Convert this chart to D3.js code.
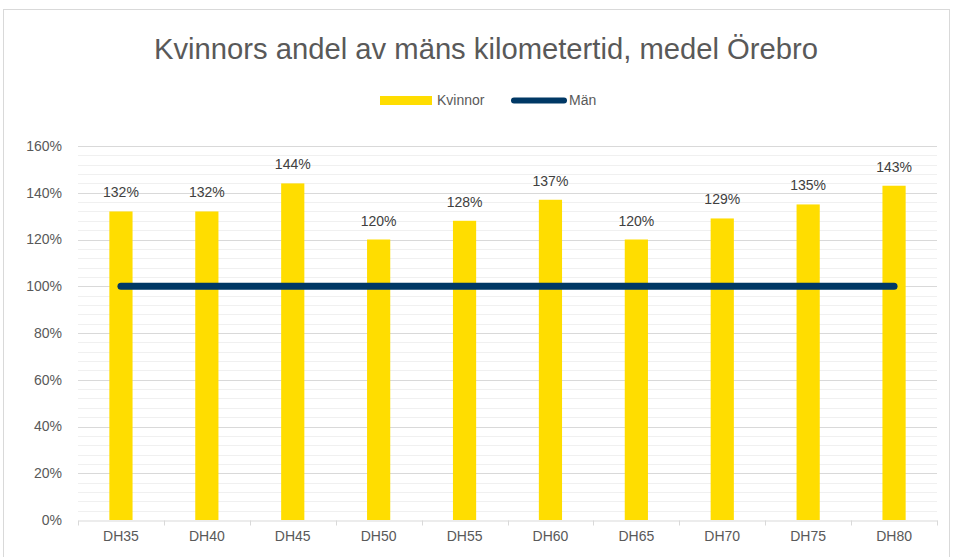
<!DOCTYPE html>
<html>
<head>
<meta charset="utf-8">
<script src="https://cdn.jsdelivr.net/npm/d3@7"></script>
<style>
  body { margin: 0; background: #fff; }
  text { font-family: "Liberation Sans", Arial, sans-serif; }
</style>
</head>
<body>
<svg id="chart" width="955" height="557"></svg>
<script>
// data
const categories = ["DH35", "DH40", "DH45", "DH50", "DH55", "DH60", "DH65", "DH70", "DH75", "DH80"]
const kvinnor = [1.32, 1.32, 1.44, 1.20, 1.28, 1.37, 1.20, 1.29, 1.35, 1.43]
const man = [1, 1, 1, 1, 1, 1, 1, 1, 1, 1]
const yTicks = [0, 0.2, 0.4, 0.6, 0.8, 1.0, 1.2, 1.4, 1.6]

const width = 955
const height = 557
const margin = { top: 146, right: 18, bottom: 37, left: 78 }

const svg = d3.select('#chart')

// outer frame
svg.append('rect')
  .attr('x', 3.5).attr('y', 9.5)
  .attr('width', 946).attr('height', 570)
  .attr('fill', 'none')
  .attr('stroke', '#d9d9d9')

const x = d3.scaleBand()
  .domain(categories)
  .range([margin.left, width - margin.right])

const y = d3.scaleLinear()
  .domain([0, 1.6])
  .range([height - margin.bottom, margin.top])

// minor gridlines every 4%
const minor = d3.range(0, 1.6001, 0.04).filter(v => Math.round(v * 100) % 20 !== 0)
svg.append('g')
  .selectAll('line')
  .data(minor)
  .enter()
  .append('line')
  .attr('x1', margin.left).attr('x2', width - margin.right)
  .attr('y1', d => Math.round(y(d)) + 0.5).attr('y2', d => Math.round(y(d)) + 0.5)
  .style('stroke', '#f0f0f0')

// major gridlines
svg.append('g')
  .selectAll('line')
  .data(yTicks.slice(1))
  .enter()
  .append('line')
  .attr('x1', margin.left).attr('x2', width - margin.right)
  .attr('y1', d => Math.round(y(d)) + 0.5).attr('y2', d => Math.round(y(d)) + 0.5)
  .style('stroke', '#d9d9d9')

// y labels
svg.append('g')
  .selectAll('text')
  .data(yTicks)
  .enter()
  .append('text')
  .attr('x', 62)
  .attr('y', d => y(d))
  .attr('dy', '0.35em')
  .attr('text-anchor', 'end')
  .attr('font-size', 14)
  .attr('fill', '#595959')
  .text(d => d3.format('.0%')(d))

// bars
const barW = x.bandwidth() * 0.27
svg.append('g')
  .selectAll('rect')
  .data(kvinnor)
  .enter()
  .append('rect')
  .attr('x', (d, i) => x(categories[i]) + x.bandwidth() / 2 - barW / 2)
  .attr('y', d => y(d))
  .attr('width', barW)
  .attr('height', d => y(0) - y(d))
  .attr('fill', '#ffdd00')

// bar labels
svg.append('g')
  .selectAll('text')
  .data(kvinnor)
  .enter()
  .append('text')
  .attr('x', (d, i) => x(categories[i]) + x.bandwidth() / 2)
  .attr('y', d => y(d) - 14)
  .attr('text-anchor', 'middle')
  .attr('font-size', 14)
  .attr('fill', '#404040')
  .text(d => d3.format('.0%')(d))

// x axis
const xAxis = d3.axisBottom(x).tickSize(0).tickPadding(11)
const gx = svg.append('g')
  .attr('transform', `translate(0,${y(0) + 0.5})`)
  .call(xAxis)
gx.select('.domain').attr('stroke', '#d9d9d9')
gx.selectAll('text')
  .attr('font-size', 14)
  .attr('fill', '#595959')
  .style('font-family', '"Liberation Sans", Arial, sans-serif')
// ticks between categories
gx.selectAll('line.sep')
  .data(d3.range(categories.length + 1))
  .enter()
  .append('line')
  .attr('class', 'sep')
  .attr('x1', i => Math.round(margin.left + i * x.step()) + 0.5)
  .attr('x2', i => Math.round(margin.left + i * x.step()) + 0.5)
  .attr('y1', 0).attr('y2', 5)
  .attr('stroke', '#d9d9d9')

// line for men
const line = d3.line()
  .x((d, i) => x(categories[i]) + x.bandwidth() / 2)
  .y(d => y(d))
svg.append('path')
  .datum(man)
  .attr('d', line)
  .attr('fill', 'none')
  .attr('stroke', '#003865')
  .attr('stroke-width', 7)
  .attr('stroke-linecap', 'round')

// title
svg.append('text')
  .attr('x', 486)
  .attr('y', 59)
  .attr('text-anchor', 'middle')
  .attr('font-size', 30)
  .attr('textLength', 664)
  .attr('lengthAdjust', 'spacingAndGlyphs')
  .attr('fill', '#595959')
  .text('Kvinnors andel av mäns kilometertid, medel Örebro')

// legend
const lg = svg.append('g')
lg.append('rect')
  .attr('x', 380).attr('y', 96)
  .attr('width', 52).attr('height', 9)
  .attr('fill', '#ffdd00')
lg.append('text')
  .attr('x', 437).attr('y', 100.5)
  .attr('dy', '0.35em')
  .attr('font-size', 14)
  .attr('fill', '#595959')
  .text('Kvinnor')
lg.append('line')
  .attr('x1', 514).attr('x2', 564)
  .attr('y1', 100.5).attr('y2', 100.5)
  .attr('stroke', '#003865')
  .attr('stroke-width', 6)
  .attr('stroke-linecap', 'round')
lg.append('text')
  .attr('x', 569).attr('y', 100.5)
  .attr('dy', '0.35em')
  .attr('font-size', 14)
  .attr('fill', '#595959')
  .text('Män')
</script>
</body>
</html>
